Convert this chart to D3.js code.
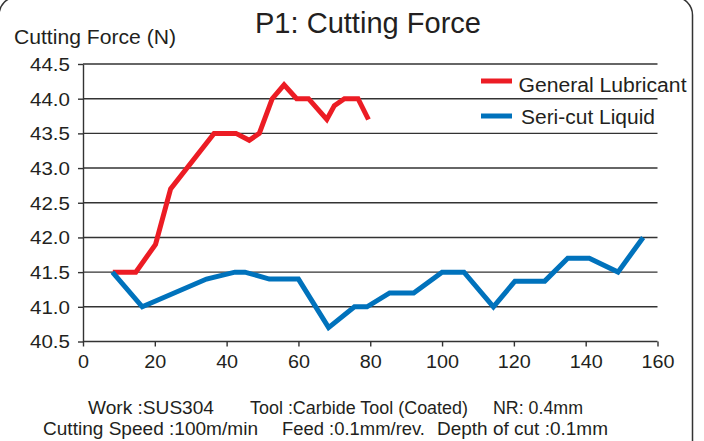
<!DOCTYPE html>
<meta charset="utf-8">
<style>
    body { margin: 0; background: #fff; }
    text { font-family: "Liberation Sans", Arial, Helvetica, sans-serif; fill: #231f20; }
    .grid line { stroke: #333; stroke-width: 1.4px; }
    .axis path, .axis line { stroke: #333; stroke-width: 1.4px; }
</style>
<svg width="704" height="441"></svg>
<script src="https://d3js.org/d3.v7.min.js"></script>
<script>

    var lubX = [8.3, 14.7, 20.2, 24.4, 36.5, 42.6, 46.3, 49.1, 52.7, 56, 59.5, 62.8, 67.9, 70, 72.8, 76.6, 79.5];
    var lubY = [41.5, 41.5, 41.9, 42.7, 43.5, 43.5, 43.4, 43.5, 44.0, 44.2, 44.0, 44.0, 43.7, 43.9, 44.0, 44.0, 43.7];

    var seriX = [8.2, 16.5, 34.4, 42.3, 45.1, 51.9, 60, 68.4, 75.6, 79.1, 85.4, 92.1, 100, 106.1, 114.3, 120.3, 128.6, 135, 141, 149, 156];
    var seriY = [41.5, 41.0, 41.4, 41.5, 41.5, 41.4, 41.4, 40.7, 41.0, 41.0, 41.2, 41.2, 41.5, 41.5, 41.0, 41.37, 41.37, 41.7, 41.7, 41.5, 42.0];

    var xTicks = [0, 20, 40, 60, 80, 100, 120, 140, 160];
    var yTicks = [40.5, 41.0, 41.5, 42.0, 42.5, 43.0, 43.5, 44.0, 44.5];

    var seriesNames = ["General Lubricant", "Seri-cut Liquid"];
    var seriesColors = ["#ec1c24", "#0072bc"];

    var notes = [
        ["Work :SUS304", "Tool :Carbide Tool (Coated)", "NR: 0.4mm"],
        ["Cutting Speed :100m/min", "Feed :0.1mm/rev.", "Depth of cut :0.1mm"]
    ];

    var svg = d3.select("svg");

    // rounded frame, mostly off the page except top corners and right edge
    svg.append("rect")
        .attr("x", -1).attr("y", -3)
        .attr("width", 693.5).attr("height", 480)
        .attr("rx", 18)
        .attr("fill", "none")
        .attr("stroke", "#333")
        .attr("stroke-width", 1.5);

    var x = d3.scaleLinear().domain([0, 160]).range([83, 657.5]);
    var y = d3.scaleLinear().domain([40.5, 44.5]).range([341.5, 64]);

    svg.append("g").attr("class", "grid")
        .selectAll("line")
        .data(yTicks.slice(1))
        .enter().append("line")
        .attr("x1", x(0)).attr("x2", x(160))
        .attr("y1", function(d) { return y(d); })
        .attr("y2", function(d) { return y(d); });

    var yAxis = svg.append("g").attr("class", "axis")
        .attr("transform", "translate(" + x(0) + ",0)")
        .call(d3.axisLeft(y).tickValues(yTicks).tickFormat(d3.format(".1f")).tickSize(5).tickSizeOuter(0));
    yAxis.selectAll("text")
        .style("font-size", "19px")
        .attr("x", -13).attr("dy", "0.34em")
        .attr("textLength", 40).attr("lengthAdjust", "spacingAndGlyphs");

    var xAxis = svg.append("g").attr("class", "axis")
        .attr("transform", "translate(0," + y(40.5) + ")")
        .call(d3.axisBottom(x).tickValues(xTicks).tickSize(5).tickSizeOuter(0));
    xAxis.selectAll("text")
        .style("font-size", "18px")
        .attr("y", 14).attr("dy", "0.71em")
        .each(function(d) {
            var n = String(d).length;
            d3.select(this).attr("textLength", n * 11).attr("lengthAdjust", "spacingAndGlyphs");
        });
    xAxis.select(".domain").attr("d", "M" + x(0) + ",0H" + x(160));

    var line = d3.line()
        .x(function(d) { return x(d[0]); })
        .y(function(d) { return y(d[1]); });

    var series = [d3.zip(lubX, lubY), d3.zip(seriX, seriY)];

    svg.selectAll(".series")
        .data(series)
        .enter().append("path")
        .attr("class", "series")
        .attr("d", line)
        .attr("fill", "none")
        .attr("stroke", function(d, i) { return seriesColors[i]; })
        .attr("stroke-width", 5)
        .attr("stroke-linejoin", "miter");

    // legend
    var legendWidths = [168, 134];
    var legend = svg.selectAll(".legend")
        .data(seriesNames)
        .enter().append("g")
        .attr("class", "legend")
        .attr("transform", function(d, i) { return "translate(481," + (i ? 116 : 81) + ")"; });
    legend.append("line")
        .attr("x1", 0).attr("x2", 31)
        .attr("stroke", function(d, i) { return seriesColors[i]; })
        .attr("stroke-width", 5);
    legend.append("text")
        .attr("x", function(d, i) { return i ? 40 : 37.5; })
        .attr("y", function(d, i) { return i ? 7.5 : 10.5; })
        .style("font-size", "20px")
        .attr("textLength", function(d, i) { return legendWidths[i]; })
        .attr("lengthAdjust", "spacingAndGlyphs")
        .text(function(d) { return d; });

    svg.append("text")
        .attr("x", 255).attr("y", 33)
        .style("font-size", "29px")
        .attr("textLength", 226).attr("lengthAdjust", "spacingAndGlyphs")
        .text("P1: Cutting Force");

    svg.append("text")
        .attr("x", 14).attr("y", 43.5)
        .style("font-size", "20.5px")
        .attr("textLength", 162).attr("lengthAdjust", "spacingAndGlyphs")
        .text("Cutting Force (N)");

    // test conditions under the chart
    var noteX = [[88, 250, 493], [43, 282, 437]];
    var noteW = [[126, 218, 90], [215, 143, 171]];
    var noteY = [414, 435];
    notes.forEach(function(row, r) {
        row.forEach(function(s, c) {
            svg.append("text")
                .attr("x", noteX[r][c]).attr("y", noteY[r])
                .style("font-size", "17.5px")
                .attr("textLength", noteW[r][c]).attr("lengthAdjust", "spacingAndGlyphs")
                .text(s);
        });
    });

</script>
